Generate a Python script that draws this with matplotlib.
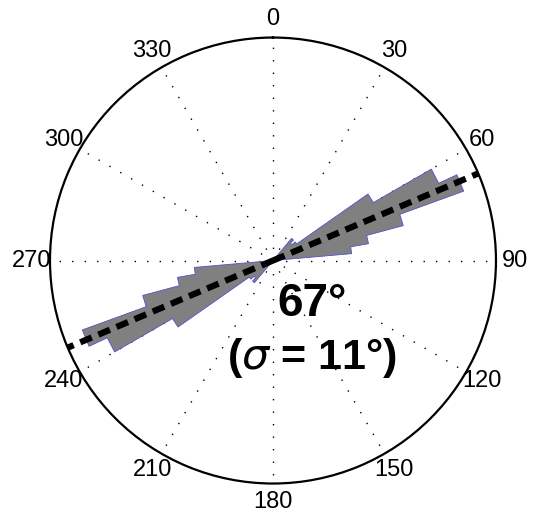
import numpy as np
import matplotlib
matplotlib.use("Agg")
import matplotlib.pyplot as plt

plt.rcParams['font.family'] = ['Liberation Sans', 'DejaVu Sans']

# ---- data (rose histogram, 5-degree bins, axial data mirrored by 180) ----
bin_width_deg = 5
bin_starts_deg = [40, 45, 50, 55, 60, 65, 70, 75, 80,
                  220, 225, 230, 235, 240, 245, 250, 255, 260]
bin_values = [0.13, 0.11, 0.13, 0.52, 0.82, 0.91, 0.605, 0.435, 0.354,
              0.13, 0.11, 0.13, 0.52, 0.82, 0.91, 0.605, 0.435, 0.354]
mean_dir_deg = 67
sigma_deg = 11
tick_angles = list(range(0, 360, 30))
tick_labels = [str(a) for a in tick_angles]

fig = plt.figure(figsize=(5.37, 5.25), dpi=100)
ax = fig.add_axes([0.0931, 0.079, 0.8305, 0.8495], projection='polar')
ax.set_theta_zero_location('N')
ax.set_theta_direction(-1)
ax.set_ylim(0, 1)

# build outline polygon over full circle of bins
all_starts = np.arange(0, 360, bin_width_deg)
vals = np.zeros(len(all_starts))
for s, v in zip(bin_starts_deg, bin_values):
    vals[int(s // bin_width_deg)] = v
th, rr = [], []
for s, v in zip(all_starts, vals):
    th += [np.deg2rad(s), np.deg2rad(s + bin_width_deg)]
    rr += [v, v]
ax.fill(th, rr, facecolor='#808080', edgecolor='#5050d0', linewidth=0.6, zorder=2)

# dotted spokes
for a in tick_angles:
    ax.plot([np.deg2rad(a), np.deg2rad(a)], [0, 1], color='black',
            linestyle=(0, (1, 8)), linewidth=1.0, zorder=1)

# mean direction dashed line (two radial halves)
md = np.deg2rad(mean_dir_deg)
for ang in (md, md + np.pi):
    ax.plot([ang, ang], [0, 1], color='black', linewidth=4.5,
            dashes=(2.0, 1.15), zorder=3, clip_on=False)

ax.grid(False)
ax.set_yticks([])
ax.set_xticks(np.deg2rad(tick_angles))
ax.set_xticklabels(tick_labels, fontsize=17)
ax.tick_params(axis='x', pad=3)
ax.spines['polar'].set_linewidth(1.6)

fig.text(312 / 537, 1 - 304 / 525, f"{mean_dir_deg}°", fontsize=33,
         fontweight='bold', ha='center', va='center')
fig.text(312 / 537, 1 - 358 / 525, r"($\sigma$ = " + f"{sigma_deg}°)",
         fontsize=31, fontweight='bold', ha='center', va='center')

fig.savefig('out.png', dpi=100)
